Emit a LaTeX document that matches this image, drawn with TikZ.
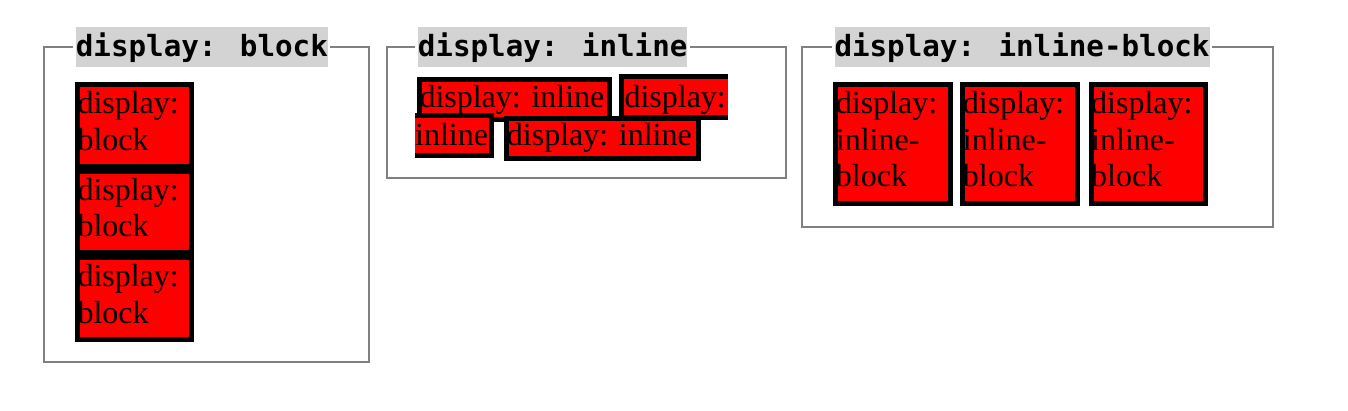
\documentclass[tikz,border=0pt]{standalone}
\usepackage{fontspec}
\setmainfont{Liberation Serif}
\newfontfamily\legendmono{DejaVu Sans Mono}
\usepackage{tikz}
\usetikzlibrary{positioning, calc}
\definecolor{framegray}{RGB}{128,128,128}
\definecolor{legendgray}{RGB}{211,211,211}
\definecolor{boxred}{RGB}{255,0,0}
\tikzset{
  fieldframe/.style = {draw=framegray, line width=2pt},
  legendbox/.style  = {fill=legendgray, inner sep=0pt, anchor=west, text height=29.4pt, text depth=10.6pt,
                       font=\legendmono\bfseries\fontsize{29.2}{30}\selectfont},
  redbox/.style     = {rectangle, draw=black, line width=5pt, fill=boxred, inner sep=0pt, anchor=north west},
  redpiece/.style   = {rectangle, fill=boxred, inner sep=0pt, anchor=north west},
  openedge/.style   = {draw=black, line width=5pt},
  boxtext/.style    = {anchor=base west, inner sep=0pt, align=left, text width=108pt,
                       font=\fontsize{32}{36.7}\selectfont},
  linetext/.style   = {anchor=base west, inner sep=0pt, font=\fontsize{32}{36.7}\selectfont},
}
\begin{document}
\begin{tikzpicture}[x=1pt, y=-1pt]
    \useasboundingbox (0,0) rectangle (1348,410);

    % ── Fieldset corners ────────────────────────────────────────
    \coordinate (f1nw) at (44,47.3);    \coordinate (f1ne) at (369,47.3);
    \coordinate (f1sw) at (44,362);     \coordinate (f1se) at (369,362);
    \coordinate (f2nw) at (387.3,47.3); \coordinate (f2ne) at (786,47.3);
    \coordinate (f2sw) at (387.3,177.7);\coordinate (f2se) at (786,177.7);
    \coordinate (f3nw) at (802.3,47.3); \coordinate (f3ne) at (1273.3,47.3);
    \coordinate (f3sw) at (802.3,227.3);\coordinate (f3se) at (1273.3,227.3);

    % ── Legends ─────────────────────────────────────────────────
    \node[legendbox] (leg1) at (75.7,47.3)  {display: block};
    \node[legendbox] (leg2) at (417.7,47.3) {display: inline};
    \node[legendbox] (leg3) at (834.3,47.3) {display: inline-block};

    \draw[fieldframe] ([xshift=-2.4pt]leg1.west) -- (f1nw) -- (f1sw) -- (f1se) -- (f1ne) -- ([xshift=2.4pt]leg1.east);
    \draw[fieldframe] ([xshift=-2.4pt]leg2.west) -- (f2nw) -- (f2sw) -- (f2se) -- (f2ne) -- ([xshift=2.4pt]leg2.east);
    \draw[fieldframe] ([xshift=-2.4pt]leg3.west) -- (f3nw) -- (f3sw) -- (f3se) -- (f3ne) -- ([xshift=2.4pt]leg3.east);

    % ── display: block ──────────────────────────────────────────
    \node[redbox, minimum width=114.4pt, minimum height=81.7pt] (b1) at (74.8,81.8) {};
    \node[redbox, minimum width=114.4pt, minimum height=81.7pt] (b2) at (74.8,168.5) {};
    \node[redbox, minimum width=114.4pt, minimum height=81.7pt] (b3) at (74.8,255.2) {};
    \node[boxtext] (b1t) at ($(b1.north west)+(2.5,31.5)$) {display:\\block};
    \node[boxtext] (b2t) at ($(b2.north west)+(2.5,31.5)$) {display:\\block};
    \node[boxtext] (b3t) at ($(b3.north west)+(2.5,31.5)$) {display:\\block};

    % ── display: inline (line boxes) ────────────────────────────
    \node[redbox, minimum width=190pt, minimum height=40.5pt] (il1) at (416.8,76.5) {};
    \node[redpiece, minimum width=105.9pt, minimum height=40.5pt] (il2) at (621.8,76.5) {};
    \draw[openedge] (il2.north east) -- (il2.north west) -- (il2.south west) -- (il2.south east);
    \node[redpiece, minimum width=75.8pt, minimum height=40pt] (il3) at (415,115.5) {};
    \draw[openedge] (il3.north west) -- (il3.north east) -- (il3.south east) -- (il3.south west);
    \node[redbox, minimum width=191.6pt, minimum height=40pt] (il4) at (504.2,115.5) {};
    \node[linetext] (il1t) at ($(il1.north west)+(2.5,30.8)$) {display: inline};
    \node[linetext] (il2t) at ($(il2.north west)+(2.5,30.8)$) {display:};
    \node[linetext] (il3t) at ($(il3.north west)+(0,29.5)$) {inline};
    \node[linetext] (il4t) at ($(il4.north west)+(2.5,29.5)$) {display: inline};

    % ── display: inline-block ───────────────────────────────────
    \node[redbox, minimum width=114.3pt, minimum height=119pt] (ib1) at (833.2,81.8) {};
    \node[redbox, minimum width=114.3pt, minimum height=119pt] (ib2) at (960.2,81.8) {};
    \node[redbox, minimum width=114.3pt, minimum height=119pt] (ib3) at (1088.5,81.8) {};
    \node[boxtext] (ib1t) at ($(ib1.north west)+(2.5,31.5)$) {display:\\inline-\\block};
    \node[boxtext] (ib2t) at ($(ib2.north west)+(2.5,31.5)$) {display:\\inline-\\block};
    \node[boxtext] (ib3t) at ($(ib3.north west)+(2.5,31.5)$) {display:\\inline-\\block};
\end{tikzpicture}
\end{document}
